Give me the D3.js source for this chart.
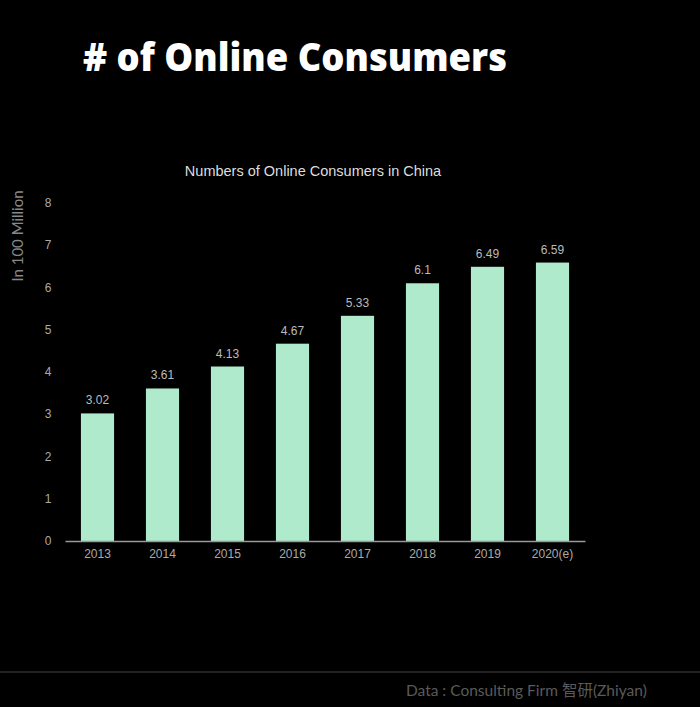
<!DOCTYPE html>
<html><head><meta charset="utf-8">
<script src="https://cdn.jsdelivr.net/npm/d3@7"></script>
<style>body{margin:0;background:#000;}svg{display:block;}</style>
</head><body>
<script>
const categories = ["2013","2014","2015","2016","2017","2018","2019","2020(e)"];
const values = [3.02,3.61,4.13,4.67,5.33,6.1,6.49,6.59];
const valueLabels = ["3.02","3.61","4.13","4.67","5.33","6.1","6.49","6.59"];
const yTicks = [0,1,2,3,4,5,6,7,8];

const W=700,H=707;
const svg=d3.select("body").append("svg").attr("width",W).attr("height",H).style("background","#000");
svg.append("rect").attr("width",W).attr("height",H).attr("fill","#000");

const x=d3.scaleBand().domain(categories).range([65,585]).paddingInner(0.49).paddingOuter(0.245);
const y=d3.scaleLinear().domain([0,8]).range([541,203]);

const title=svg.append("text").attr("x",83).attr("y",71).text("# of Online Consumers")
  .attr("font-family","'Open Sans'").attr("font-weight",800).attr("font-size",38)
  .attr("fill","#fff");
title.attr("textLength",424).attr("lengthAdjust","spacingAndGlyphs");

svg.append("text").attr("x",313).attr("y",176).attr("text-anchor","middle")
  .text("Numbers of Online Consumers in China")
  .attr("font-family","'Liberation Sans', Arial").attr("font-size",14.5).attr("fill","#ddd");

svg.append("text").attr("transform","translate(23,236) rotate(-90)").attr("text-anchor","middle")
  .text("In 100 Million").attr("font-family","Lato").attr("font-size",15).attr("fill","#888");

svg.append("g").selectAll("text").data(yTicks).join("text")
  .attr("x",48).attr("y",d=>y(d)+4).attr("text-anchor","middle")
  .text(d=>d).attr("font-family","'Liberation Sans', Arial").attr("font-size",12).attr("fill","#aaa");

svg.append("g").selectAll("rect").data(values).join("rect")
  .attr("x",(d,i)=>x(categories[i])).attr("width",x.bandwidth())
  .attr("y",d=>y(d)).attr("height",d=>y(0)-y(d)).attr("fill","#aeeacb");

svg.append("g").selectAll("text").data(values).join("text")
  .attr("x",(d,i)=>x(categories[i])+x.bandwidth()/2).attr("y",d=>y(d)-9)
  .attr("text-anchor","middle").text((d,i)=>valueLabels[i])
  .attr("font-family","'Liberation Sans', Arial").attr("font-size",12).attr("fill","#bbb");

const xAxis=svg.append("g").attr("transform",`translate(0,${y(0)})`)
  .call(d3.axisBottom(x).tickSize(0).tickPadding(8));
xAxis.select(".domain").attr("stroke","#999").attr("stroke-width",1.5);
xAxis.selectAll("text").attr("font-family","'Liberation Sans', Arial").attr("font-size",12).attr("fill","#aaa");

svg.append("line").attr("x1",0).attr("x2",W).attr("y1",672).attr("y2",672).attr("stroke","#444").attr("stroke-width",1);
svg.append("text").attr("x",647).attr("y",696).attr("text-anchor","end")
  .text("Data : Consulting Firm 智研(Zhiyan)")
  .attr("font-family","Lato, 'Noto Sans CJK SC'").attr("font-size",15.5).attr("fill","#5a5a5a");
</script>
</body></html>
